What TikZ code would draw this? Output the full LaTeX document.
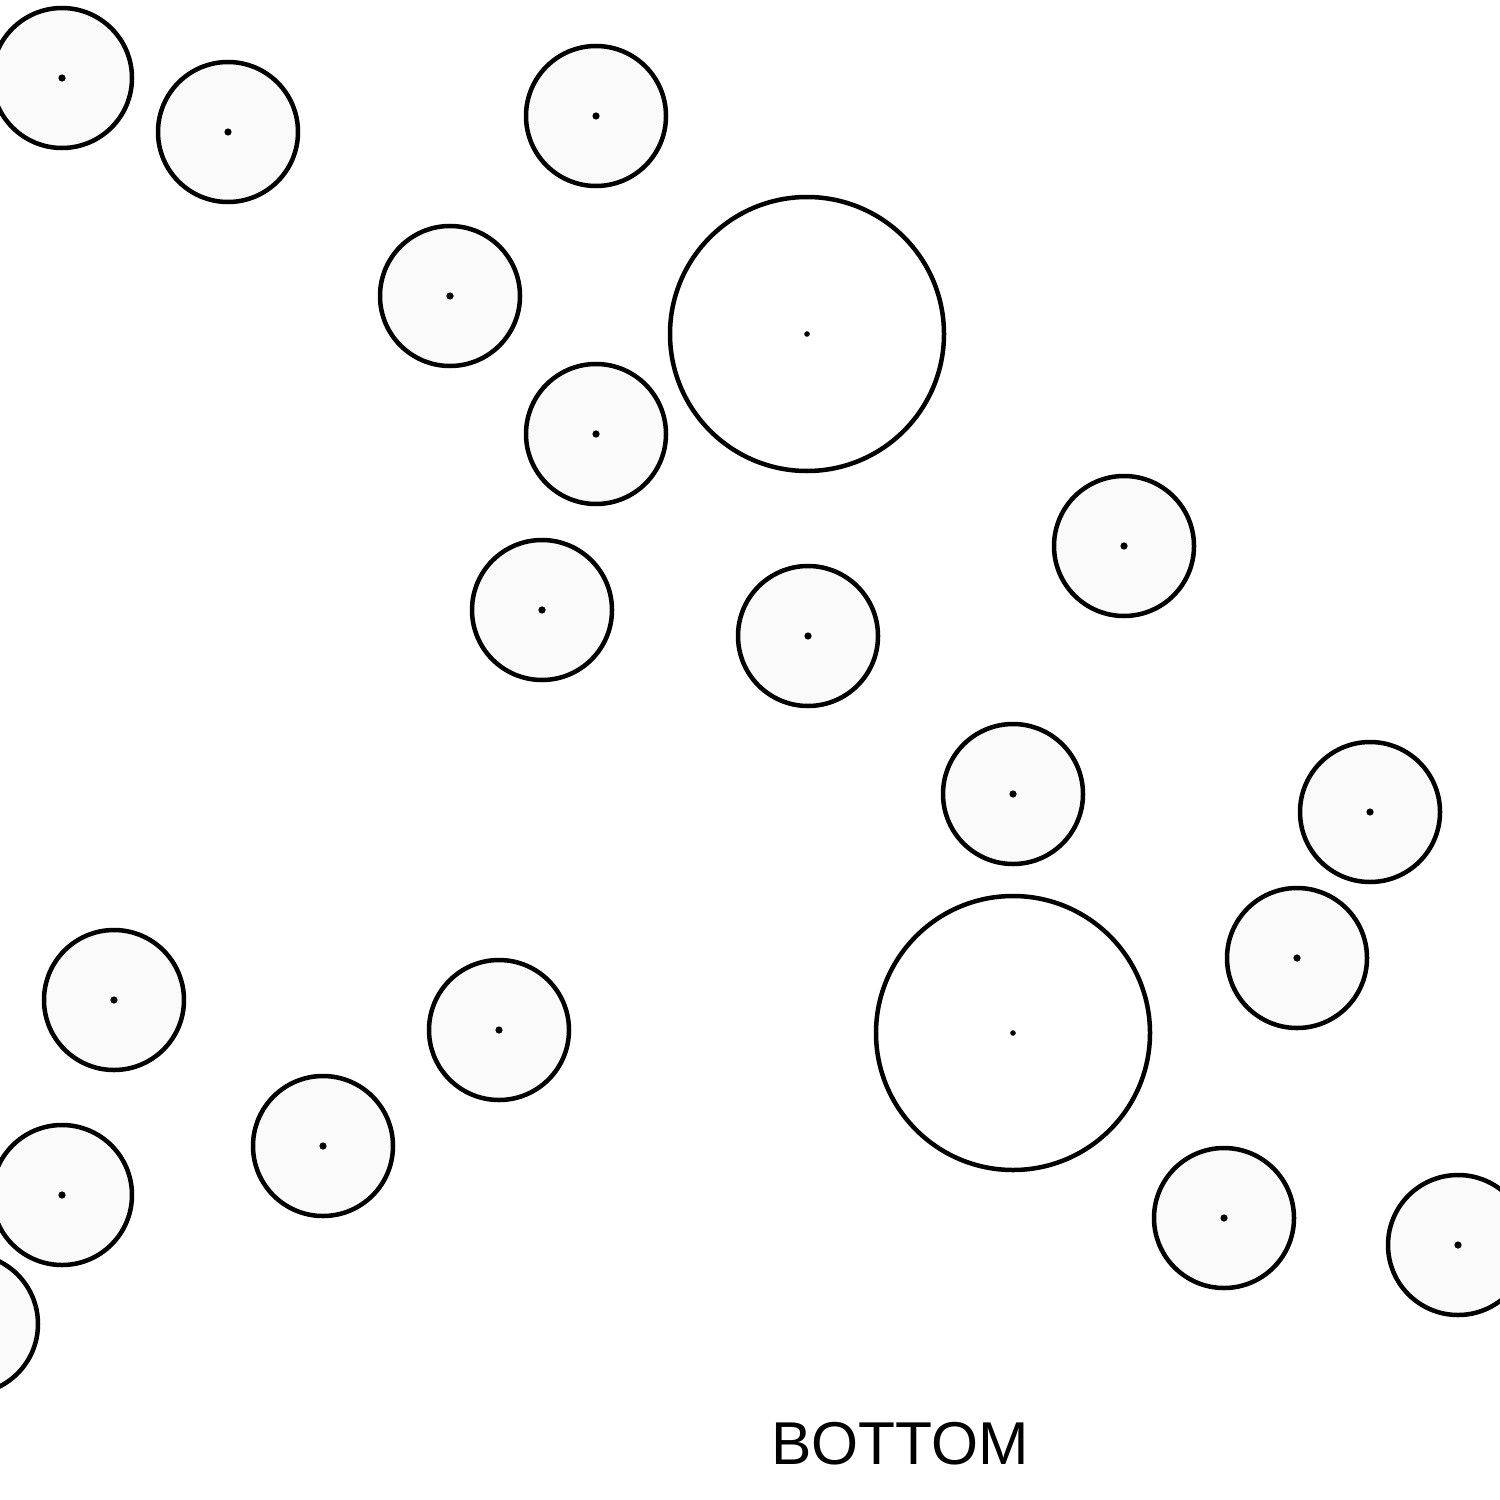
\documentclass[tikz,border=0pt]{standalone}
\usepackage{fontspec}
\setmainfont{Liberation Sans}
\begin{document}
\begin{tikzpicture}[x=0.01cm,y=-0.01cm,
  smallc/.style={draw=black,line width=0.045cm,fill=black!2},
  bigc/.style={draw=black,line width=0.045cm,fill=white},
  lbl/.style={font=\fontsize{17.2pt}{20pt}\selectfont,text=black,inner sep=0pt}]
\useasboundingbox (0,0) rectangle (1500,1500);
\begin{scope}
\clip (0,0) rectangle (1500,1500);
\foreach \n/\x/\y in {a/62/78, b/228/132, c/596/116, d/450/296, e/596/434, f/542/610, g/808/636, h/1124/546, i/1013/794, j/1370/812, k/1297/958, l/114/1000, m/499/1030, n/323/1146, o/62/1195, p/-32/1324, q/1224/1218, r/1458/1245}{
  \draw[smallc] (\x,\y) circle[radius=70];
  \fill (\x,\y) circle[radius=3.6];
}
\foreach \n/\x/\y in {A/807/334, B/1013/1033}{
  \draw[bigc] (\x,\y) circle[radius=137];
  \fill (\x,\y) circle[radius=2.8];
}
\end{scope}
\node[lbl] (bottom) at (900,1444) {BOTTOM};
\end{tikzpicture}
\end{document}
